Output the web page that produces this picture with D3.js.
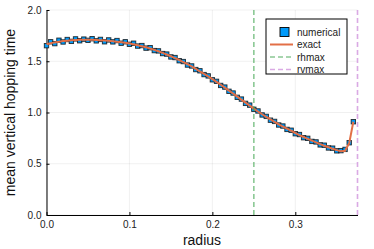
<!DOCTYPE html>
<html>
<head>
<meta charset="utf-8">
<script src="https://cdn.jsdelivr.net/npm/d3@7"></script>
<style>
  body { margin: 0; background: #fff; }
  svg { font-family: "Liberation Sans", Arial, Helvetica, sans-serif; }
</style>
</head>
<body>
<svg id="chart" width="374" height="249"></svg>
<script>
// radius grid
const radius = [0.000, 0.005, 0.010, 0.015, 0.020, 0.025, 0.030, 0.035, 0.040, 0.045,
  0.050, 0.055, 0.060, 0.065, 0.070, 0.075, 0.080, 0.085, 0.090, 0.095,
  0.100, 0.105, 0.110, 0.115, 0.120, 0.125, 0.130, 0.135, 0.140, 0.145,
  0.150, 0.155, 0.160, 0.165, 0.170, 0.175, 0.180, 0.185, 0.190, 0.195,
  0.200, 0.205, 0.210, 0.215, 0.220, 0.225, 0.230, 0.235, 0.240, 0.245,
  0.250, 0.255, 0.260, 0.265, 0.270, 0.275, 0.280, 0.285, 0.290, 0.295,
  0.300, 0.305, 0.310, 0.315, 0.320, 0.325, 0.330, 0.335, 0.340, 0.345,
  0.350, 0.355, 0.360, 0.365, 0.370];

const exact = [1.665, 1.675, 1.684, 1.691, 1.697, 1.701, 1.705, 1.707, 1.709, 1.710,
  1.710, 1.709, 1.708, 1.706, 1.703, 1.700, 1.696, 1.691, 1.686, 1.680,
  1.674, 1.666, 1.657, 1.647, 1.636, 1.624, 1.611, 1.597, 1.582, 1.566,
  1.549, 1.531, 1.512, 1.492, 1.471, 1.449, 1.426, 1.402, 1.377, 1.352,
  1.326, 1.299, 1.271, 1.243, 1.214, 1.185, 1.155, 1.126, 1.096, 1.067,
  1.038, 1.010, 0.983, 0.957, 0.932, 0.908, 0.885, 0.863, 0.842, 0.822,
  0.800, 0.780, 0.761, 0.743, 0.725, 0.708, 0.691, 0.676, 0.661, 0.647,
  0.633, 0.623, 0.627, 0.700, 0.910];

const numerical = [1.652, 1.690, 1.672, 1.705, 1.688, 1.712, 1.694, 1.718, 1.700, 1.716,
  1.704, 1.720, 1.699, 1.713, 1.690, 1.708, 1.689, 1.702, 1.676, 1.690,
  1.665, 1.676, 1.648, 1.653, 1.628, 1.632, 1.604, 1.601, 1.575, 1.570,
  1.542, 1.536, 1.505, 1.497, 1.463, 1.454, 1.419, 1.407, 1.370, 1.357,
  1.319, 1.304, 1.264, 1.248, 1.207, 1.190, 1.148, 1.131, 1.089, 1.072,
  1.031, 1.015, 0.976, 0.962, 0.925, 0.913, 0.878, 0.868, 0.835, 0.827,
  0.793, 0.785, 0.754, 0.748, 0.718, 0.713, 0.684, 0.681, 0.654, 0.652,
  0.626, 0.628, 0.640, 0.705, 0.910];

const xTicks = [0.0, 0.1, 0.2, 0.3];
const yTicks = [0.0, 0.5, 1.0, 1.5, 2.0];
const rhmax = 0.25;
const rvmax = 0.375;

const legendItems = [
  { label: "numerical", kind: "marker", color: "#009af9" },
  { label: "exact", kind: "line", color: "#e26f46" },
  { label: "rhmax", kind: "dash", color: "#3da44d" },
  { label: "rvmax", kind: "dash", color: "#c271d2" }
];

const svg = d3.select("#chart");
const plotLeft = 46.5, plotRight = 357.5, plotTop = 10, plotBottom = 215;

const x = d3.scaleLinear().domain([0, 0.375]).range([plotLeft, plotRight]);
const y = d3.scaleLinear().domain([0, 2]).range([plotBottom, plotTop]);

// grid
svg.append("g").selectAll("line").data(xTicks).enter().append("line")
  .attr("x1", d => x(d)).attr("x2", d => x(d))
  .attr("y1", plotTop).attr("y2", plotBottom)
  .attr("stroke", "#000").attr("stroke-opacity", 0.1).attr("stroke-width", 0.6);
svg.append("g").selectAll("line").data(yTicks).enter().append("line")
  .attr("x1", plotLeft).attr("x2", plotRight)
  .attr("y1", d => y(d)).attr("y2", d => y(d))
  .attr("stroke", "#000").attr("stroke-opacity", 0.1).attr("stroke-width", 0.6);

// axes
const xAxis = svg.append("g")
  .attr("transform", `translate(0,${plotBottom})`)
  .call(d3.axisBottom(x).tickValues(xTicks).tickFormat(d3.format(".1f")).tickSizeInner(-3).tickSizeOuter(0).tickPadding(6));
const yAxis = svg.append("g")
  .attr("transform", `translate(${plotLeft},0)`)
  .call(d3.axisLeft(y).tickValues(yTicks).tickFormat(d3.format(".1f")).tickSizeInner(-3).tickSizeOuter(0).tickPadding(5));

[xAxis, yAxis].forEach(a => {
  a.select(".domain").attr("stroke", "#000").attr("stroke-width", 1);
  a.selectAll(".tick line").attr("stroke", "#000");
  a.selectAll(".tick text").attr("fill", "#222").style("font-size", "10px");
});

// markers
const pts = radius.map((r, i) => ({ r: r, v: numerical[i] }));
svg.append("g").selectAll("rect").data(pts).enter().append("rect")
  .attr("x", d => x(d.r) - 2.2).attr("y", d => y(d.v) - 2.2)
  .attr("width", 4.4).attr("height", 4.4)
  .attr("fill", "#009af9").attr("stroke", "#111").attr("stroke-width", 0.9)
  .attr("stroke-opacity", 0.85);

// exact line
const line = d3.line().x((d, i) => x(radius[i])).y(d => y(d));
svg.append("path").datum(exact)
  .attr("d", line)
  .attr("fill", "none").attr("stroke", "#e26f46").attr("stroke-width", 2);

// vertical lines
svg.append("line").attr("x1", x(rhmax)).attr("x2", x(rhmax)).attr("y1", plotTop).attr("y2", plotBottom)
  .attr("stroke", "#3da44d").attr("stroke-opacity", 0.6).attr("stroke-width", 1.6)
  .attr("stroke-dasharray", "5,3");
svg.append("line").attr("x1", x(rvmax)).attr("x2", x(rvmax)).attr("y1", plotTop).attr("y2", plotBottom)
  .attr("stroke", "#c271d2").attr("stroke-opacity", 0.6).attr("stroke-width", 1.6)
  .attr("stroke-dasharray", "5,3");

// legend
const lg = svg.append("g").attr("transform", "translate(266,19)");
lg.append("rect").attr("width", 81).attr("height", 55)
  .attr("fill", "#fff").attr("stroke", "#000").attr("stroke-width", 1);
legendItems.forEach((item, i) => {
  const cy = 13 + i * 12.5;
  if (item.kind === "marker") {
    lg.append("rect").attr("x", 14).attr("y", cy - 4.5).attr("width", 9).attr("height", 9)
      .attr("fill", item.color).attr("stroke", "#000").attr("stroke-width", 0.9);
  } else {
    lg.append("line").attr("x1", 4).attr("x2", 27).attr("y1", cy).attr("y2", cy)
      .attr("stroke", item.color)
      .attr("stroke-width", item.kind === "line" ? 2 : 1.6)
      .attr("stroke-opacity", item.kind === "line" ? 1 : 0.6)
      .attr("stroke-dasharray", item.kind === "line" ? null : "5,3");
  }
  lg.append("text").attr("x", 31).attr("y", cy + 3.5)
    .style("font-size", "10px").attr("fill", "#222").text(item.label);
});

// axis labels
svg.append("text").attr("x", (plotLeft + plotRight) / 2).attr("y", 245)
  .attr("text-anchor", "middle").style("font-size", "14px").attr("fill", "#111").text("radius");
svg.append("text").attr("transform", `translate(15,${(plotTop + plotBottom) / 2}) rotate(-90)`)
  .attr("text-anchor", "middle").style("font-size", "14px").attr("fill", "#111")
  .text("mean vertical hopping time");
</script>
</body>
</html>
